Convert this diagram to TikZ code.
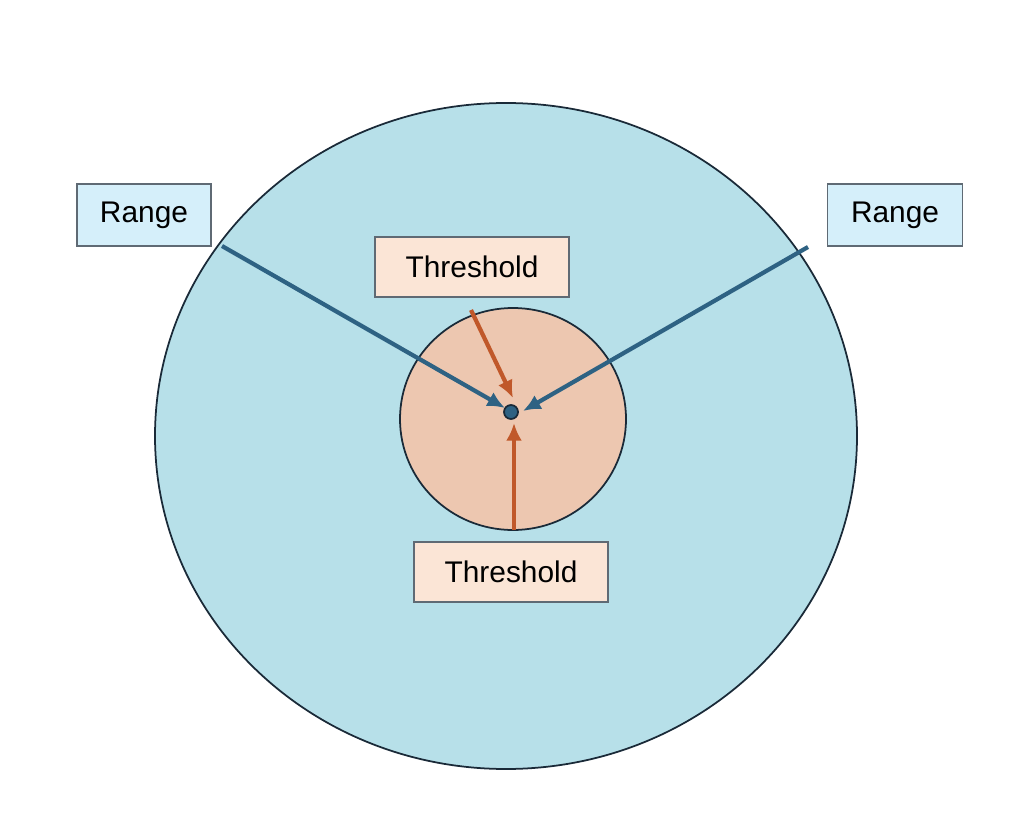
\documentclass[tikz,border=0pt]{standalone}
\usepackage{fontspec}
\usetikzlibrary{arrows.meta}
\setmainfont{Liberation Sans}
\definecolor{bigfill}{HTML}{B7E0E9}
\definecolor{smallfill}{HTML}{EDC7B0}
\definecolor{rangefill}{HTML}{D5EFFA}
\definecolor{thrfill}{HTML}{FBE5D6}
\definecolor{bluearr}{HTML}{2E6283}
\definecolor{orarr}{HTML}{C0582A}
\definecolor{edge}{HTML}{1A2A38}
\begin{document}
\begin{tikzpicture}[x=0.02cm,y=-0.02cm,
  lbl/.style={draw=edge!70,line width=0.6pt,inner sep=0pt,font=\fontsize{17}{20}\selectfont},
  barr/.style={draw=bluearr,line width=2.4pt,-{Latex[length=10pt,width=9pt]}},
  oarr/.style={draw=orarr,line width=2.4pt,-{Latex[length=10pt,width=9pt]}}]
\useasboundingbox (0,0) rectangle (1024,831);
\fill[bigfill,draw=edge,line width=1pt] (506,436) ellipse [x radius=351,y radius=333];
\fill[smallfill,draw=edge,line width=1pt] (513,419) ellipse [x radius=113,y radius=111];
\node[circle,fill=bluearr,draw=edge,line width=1pt,minimum size=14*0.02cm,inner sep=0pt] (dot) at (511,412) {};
\node[lbl,fill=rangefill,minimum width=134*0.02cm,minimum height=62*0.02cm] (rl) at (144,215) {Range};
\node[lbl,fill=rangefill,minimum width=135*0.02cm,minimum height=62*0.02cm] (rr) at (895,215) {Range};
\node[lbl,fill=thrfill,minimum width=194*0.02cm,minimum height=60*0.02cm] (tt) at (472,267) {Threshold};
\node[lbl,fill=thrfill,minimum width=194*0.02cm,minimum height=60*0.02cm] (tb) at (511,572) {Threshold};
\coordinate (a1) at (222,246); \coordinate (a1e) at (505,408);
\coordinate (a2) at (808,247); \coordinate (a2e) at (523,411);
\coordinate (a3) at (471,310); \coordinate (a3e) at (513,398);
\coordinate (a4) at (514,530); \coordinate (a4e) at (514,423);
\draw[barr] (a1) -- (a1e);
\draw[barr] (a2) -- (a2e);
\draw[oarr] (a3) -- (a3e);
\draw[oarr] (a4) -- (a4e);
\end{tikzpicture}
\end{document}
